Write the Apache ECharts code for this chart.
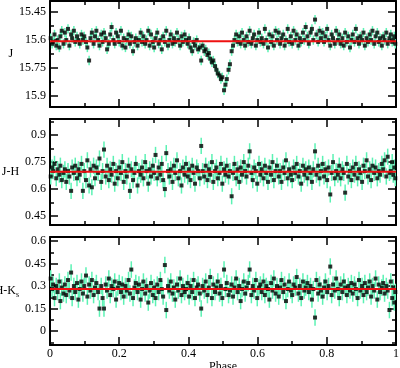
<!DOCTYPE html>
<html><head><meta charset="utf-8">
<script src="https://cdn.jsdelivr.net/npm/echarts@6/dist/echarts.min.js"></script>
<style>html,body{margin:0;padding:0;background:#fff}#c{width:400px;height:368px}</style>
</head><body><div id="c"></div>
<script>
const phase = [
0.002,0.006,0.009,0.013,0.018,0.022,0.027,0.030,0.034,0.039,
0.043,0.047,0.052,0.056,0.061,0.064,0.069,0.073,0.078,0.082,
0.086,0.091,0.095,0.099,0.104,0.108,0.113,0.117,0.121,0.126,
0.130,0.134,0.139,0.143,0.148,0.152,0.156,0.161,0.165,0.170,
0.174,0.178,0.183,0.187,0.191,0.196,0.200,0.205,0.209,0.213,
0.218,0.222,0.227,0.231,0.235,0.240,0.244,0.248,0.253,0.257,
0.262,0.266,0.270,0.275,0.279,0.284,0.288,0.292,0.297,0.301,
0.305,0.310,0.314,0.319,0.323,0.327,0.332,0.336,0.341,0.345,
0.349,0.354,0.358,0.362,0.367,0.371,0.376,0.380,0.384,0.389,
0.393,0.398,0.402,0.406,0.411,0.415,0.419,0.424,0.428,0.433,
0.437,0.441,0.446,0.450,0.455,0.459,0.463,0.468,0.472,0.477,
0.481,0.485,0.490,0.494,0.498,0.503,0.507,0.511,0.516,0.520,
0.525,0.529,0.533,0.538,0.542,0.547,0.551,0.555,0.560,0.564,
0.568,0.573,0.577,0.582,0.586,0.590,0.595,0.599,0.604,0.608,
0.612,0.617,0.621,0.625,0.630,0.634,0.639,0.643,0.647,0.652,
0.656,0.661,0.665,0.669,0.674,0.678,0.682,0.687,0.691,0.696,
0.700,0.704,0.709,0.713,0.718,0.722,0.726,0.731,0.735,0.739,
0.744,0.748,0.753,0.757,0.761,0.766,0.770,0.775,0.779,0.783,
0.788,0.792,0.796,0.801,0.805,0.810,0.814,0.818,0.823,0.827,
0.832,0.836,0.840,0.845,0.849,0.853,0.858,0.862,0.867,0.871,
0.875,0.880,0.884,0.889,0.893,0.897,0.902,0.906,0.910,0.915,
0.919,0.924,0.928,0.932,0.937,0.941,0.946,0.950,0.954,0.959,
0.963,0.967,0.972,0.976,0.981,0.985,0.989,0.992,0.995,0.998];

const jMag = [
15.59,15.62,15.61,15.57,15.63,15.60,15.64,15.58,15.55,15.62,
15.56,15.60,15.54,15.63,15.57,15.59,15.55,15.61,15.58,15.60,
15.62,15.57,15.60,15.58,15.61,15.64,15.71,15.59,15.56,15.62,
15.58,15.55,15.60,15.63,15.57,15.61,15.56,15.59,15.65,15.62,
15.57,15.53,15.60,15.62,15.56,15.58,15.61,15.55,15.63,15.59,
15.64,15.60,15.57,15.62,15.58,15.66,15.61,15.59,15.63,15.60,
15.56,15.61,15.58,15.62,15.60,15.55,15.63,15.57,15.61,15.64,
15.59,15.56,15.62,15.60,15.65,15.58,15.61,15.55,15.63,15.60,
15.57,15.62,15.59,15.61,15.56,15.60,15.63,15.58,15.61,15.57,
15.60,15.62,15.59,15.64,15.66,15.61,15.63,15.60,15.65,15.64,
15.71,15.63,15.66,15.65,15.68,15.67,15.70,15.72,15.71,15.74,
15.76,15.78,15.79,15.81,15.80,15.87,15.84,15.81,15.76,15.73,
15.66,15.63,15.60,15.57,15.61,15.58,15.62,15.56,15.60,15.63,
15.58,15.61,15.55,15.62,15.59,15.57,15.63,15.60,15.56,15.61,
15.59,15.62,15.54,15.60,15.64,15.57,15.61,15.58,15.63,15.55,
15.60,15.56,15.62,15.59,15.57,15.63,15.60,15.54,15.61,15.58,
15.62,15.55,15.60,15.57,15.63,15.59,15.61,15.56,15.60,15.53,
15.58,15.62,15.56,15.54,15.60,15.49,15.57,15.61,15.55,15.59,
15.56,15.61,15.58,15.54,15.60,15.63,15.57,15.59,15.62,15.55,
15.60,15.57,15.62,15.59,15.63,15.56,15.61,15.58,15.64,15.60,
15.57,15.61,15.54,15.59,15.62,15.58,15.60,15.56,15.63,15.59,
15.61,15.57,15.60,15.55,15.62,15.58,15.56,15.61,15.59,15.63,
15.58,15.60,15.56,15.62,15.59,15.57,15.61,15.60,15.58,15.62];

const jhColor = [
0.67,0.72,0.70,0.74,0.66,0.71,0.68,0.73,0.65,0.69,
0.71,0.64,0.70,0.67,0.59,0.72,0.69,0.73,0.66,0.71,
0.68,0.74,0.59,0.70,0.65,0.76,0.62,0.71,0.61,0.73,
0.66,0.72,0.69,0.77,0.64,0.70,0.82,0.67,0.73,0.65,
0.71,0.68,0.74,0.63,0.70,0.66,0.72,0.69,0.75,0.64,
0.70,0.67,0.73,0.59,0.71,0.65,0.69,0.74,0.62,0.70,
0.68,0.72,0.66,0.75,0.70,0.63,0.71,0.67,0.73,0.69,
0.79,0.66,0.72,0.68,0.74,0.65,0.60,0.80,0.70,0.67,
0.71,0.64,0.73,0.69,0.76,0.66,0.70,0.62,0.72,0.68,
0.74,0.67,0.71,0.65,0.73,0.69,0.63,0.72,0.70,0.66,
0.84,0.70,0.67,0.73,0.65,0.71,0.68,0.75,0.64,0.70,
0.72,0.66,0.69,0.74,0.63,0.71,0.68,0.73,0.67,0.70,
0.56,0.69,0.74,0.66,0.71,0.64,0.72,0.68,0.75,0.70,
0.67,0.73,0.81,0.69,0.65,0.72,0.70,0.63,0.74,0.68,
0.71,0.66,0.73,0.69,0.64,0.72,0.68,0.75,0.65,0.70,
0.73,0.67,0.70,0.64,0.72,0.69,0.76,0.66,0.71,0.68,
0.65,0.72,0.69,0.74,0.67,0.70,0.63,0.73,0.68,0.71,
0.66,0.72,0.69,0.64,0.71,0.81,0.68,0.73,0.66,0.70,
0.74,0.67,0.71,0.65,0.72,0.57,0.69,0.75,0.66,0.70,
0.68,0.73,0.66,0.71,0.69,0.58,0.74,0.67,0.70,0.65,
0.72,0.68,0.74,0.66,0.71,0.69,0.64,0.73,0.70,0.76,
0.67,0.71,0.65,0.73,0.69,0.72,0.66,0.70,0.68,0.74,
0.71,0.76,0.67,0.78,0.69,0.70,0.75,0.68,0.72,0.66];

const hkColor = [
0.35,0.28,0.31,0.22,0.30,0.26,0.33,0.20,0.29,0.25,
0.31,0.24,0.34,0.27,0.39,0.22,0.30,0.26,0.32,0.21,
0.28,0.33,0.25,0.30,0.37,0.23,0.31,0.27,0.34,0.24,
0.29,0.32,0.26,0.15,0.30,0.22,0.15,0.31,0.27,0.35,
0.24,0.30,0.28,0.33,0.21,0.29,0.32,0.26,0.31,0.23,
0.30,0.27,0.34,0.25,0.41,0.22,0.29,0.32,0.26,0.31,
0.21,0.28,0.33,0.25,0.30,0.19,0.27,0.32,0.24,0.29,
0.22,0.31,0.26,0.34,0.28,0.23,0.44,0.14,0.30,0.27,
0.33,0.25,0.29,0.21,0.31,0.27,0.35,0.24,0.30,0.26,
0.28,0.32,0.23,0.30,0.26,0.34,0.22,0.29,0.31,0.25,
0.15,0.30,0.27,0.33,0.24,0.29,0.36,0.22,0.31,0.26,
0.29,0.33,0.25,0.30,0.22,0.41,0.28,0.32,0.24,0.27,
0.31,0.23,0.29,0.35,0.26,0.30,0.20,0.28,0.33,0.25,
0.29,0.32,0.41,0.24,0.30,0.27,0.34,0.22,0.29,0.31,
0.26,0.33,0.24,0.30,0.28,0.21,0.32,0.27,0.35,0.25,
0.30,0.23,0.29,0.34,0.26,0.31,0.20,0.28,0.33,0.27,
0.24,0.31,0.29,0.36,0.25,0.30,0.22,0.33,0.27,0.29,
0.32,0.26,0.30,0.21,0.28,0.09,0.34,0.25,0.31,0.27,
0.23,0.29,0.33,0.26,0.30,0.43,0.24,0.31,0.27,0.35,
0.28,0.22,0.31,0.26,0.33,0.29,0.24,0.30,0.27,0.32,
0.25,0.31,0.28,0.22,0.34,0.27,0.30,0.24,0.32,0.26,
0.29,0.33,0.23,0.30,0.27,0.35,0.21,0.31,0.26,0.29,
0.32,0.25,0.30,0.27,0.14,0.33,0.22,0.29,0.19,0.26];

const errors = [0.025, 0.045, 0.055];
const fits = [15.607, 0.697, 0.28];
const xTicks = [0, 0.2, 0.4, 0.6, 0.8, 1];
const jTicks = [15.45, 15.6, 15.75, 15.9];
const jMinor = [15.525, 15.675, 15.825];
const jhTicks = [0.45, 0.6, 0.75, 0.9];
const jhMinor = [0.525, 0.675, 0.825, 0.975];
const hkTicks = [0, 0.15, 0.3, 0.45, 0.6];
const hkMinor = [-0.075, 0.075, 0.225, 0.375, 0.525];
const axisNames = ['J', 'J-H', 'H-K{s|s}'];

const FONT = "'Liberation Serif', 'Times New Roman', serif";
const panels = [
  {vals: jMag, min: 15.39, max: 15.96, inverse: true, ticks: jTicks, minor: jMinor, top: 1, height: 106, gap: 35},
  {vals: jhColor, min: 0.40, max: 0.99, inverse: false, ticks: jhTicks, minor: jhMinor, top: 119, height: 106, gap: 35},
  {vals: hkColor, min: -0.093, max: 0.627, inverse: false, ticks: hkTicks, minor: hkMinor, top: 237, height: 108, gap: 41}
];
const black = '#000';
const grids = [], xAxes = [], yAxes = [], series = [];
panels.forEach((p, k) => {
  grids.push({left: 50, width: 346, top: p.top, height: p.height, containLabel: false, outerBoundsMode: 'none'});
  ['bottom', 'top'].forEach(pos => {
    const showLab = (k === 2 && pos === 'bottom');
    xAxes.push({
      gridIndex: k, type: 'value', min: 0, max: 1, interval: 0.2, position: pos,
      axisLine: {show: true, onZero: false, lineStyle: {color: black, width: 2}},
      axisTick: {show: true, inside: true, length: 8, lineStyle: {color: black, width: 1.5}},
      minorTick: {show: true, splitNumber: 2, length: 4, lineStyle: {color: black, width: 1.5}},
      splitLine: {show: false},
      axisLabel: {show: showLab, customValues: xTicks, margin: 3, fontFamily: FONT, fontSize: 12, color: black},
      name: showLab ? 'Phase' : '', nameLocation: 'middle', nameGap: 12,
      nameTextStyle: {fontFamily: FONT, fontSize: 12, color: black}
    });
  });
  const mk = (pos, ticks, len, lab, line) => ({
    gridIndex: k, type: 'value', min: p.min, max: p.max, inverse: p.inverse, position: pos,
    axisLine: {show: line, onZero: false, lineStyle: {color: black, width: 2}},
    axisTick: {show: true, inside: true, length: len, customValues: ticks, lineStyle: {color: black, width: 1.5}},
    splitLine: {show: false},
    axisLabel: {show: lab, customValues: ticks, margin: 4, fontFamily: FONT, fontSize: 12, color: black},
    name: lab ? axisNames[k] : '', nameLocation: 'middle', nameRotate: 0, nameGap: p.gap,
    nameTextStyle: {fontFamily: FONT, fontSize: 12, color: black, align: 'center',
      rich: {s: {fontFamily: FONT, fontSize: 8, color: black, verticalAlign: 'bottom', padding: [8, 0, 0, 0]}}}
  });
  const yBase = yAxes.length;
  yAxes.push(mk('left', p.ticks, 8, true, true));
  yAxes.push(mk('left', p.minor, 4, false, false));
  yAxes.push(mk('right', p.ticks, 8, false, true));
  yAxes.push(mk('right', p.minor, 4, false, false));
  const err = errors[k];
  const n = Math.min(phase.length, p.vals.length);
  const bars = [], pts = [];
  for (let i = 0; i < n; i++) {
    bars.push([phase[i], p.vals[i] - err, p.vals[i] + err]);
    pts.push([phase[i], p.vals[i]]);
  }
  series.push({
    type: 'custom', xAxisIndex: k * 2, yAxisIndex: yBase, data: bars, z: 1, silent: true, clip: true,
    encode: {x: 0, y: [1, 2]},
    renderItem: (params, api) => {
      const a = api.coord([api.value(0), api.value(1)]);
      const b = api.coord([api.value(0), api.value(2)]);
      return {type: 'line', shape: {x1: a[0], y1: a[1], x2: b[0], y2: b[1]},
        style: {stroke: '#5cf2b4', lineWidth: 1.5}};
    }
  });
  series.push({
    type: 'scatter', xAxisIndex: k * 2, yAxisIndex: yBase, data: pts, z: 2, silent: true,
    symbol: 'rect', symbolSize: 4, itemStyle: {color: '#000'}
  });
  series.push({
    type: 'line', xAxisIndex: k * 2, yAxisIndex: yBase, data: [[0, fits[k]], [1, fits[k]]], z: 3,
    symbol: 'none', silent: true, lineStyle: {color: '#ee1111', width: 2}
  });
});
const chart = echarts.init(document.getElementById('c'), null, {renderer: 'canvas'});
chart.setOption({animation: false, backgroundColor: '#fff', grid: grids, xAxis: xAxes, yAxis: yAxes, series: series});
</script></body></html>
